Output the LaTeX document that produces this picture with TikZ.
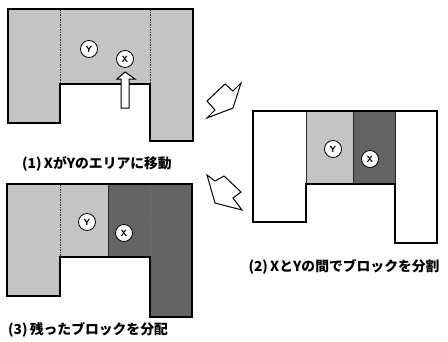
\documentclass[tikz,border=0pt]{standalone}
\usepackage{fontspec}
\setmainfont{Liberation Sans}
\newfontfamily\jp{Noto Sans CJK JP}
\definecolor{lightg}{RGB}{196,196,196}
\definecolor{darkg}{RGB}{100,100,100}
\begin{document}
\begin{tikzpicture}[x=1pt,y=-1pt,
  outline/.style={draw=black,line width=1.2pt,line join=miter},
  divider/.style={draw=black!80,line width=0.8pt,dashed,dash pattern=on 1.5pt off 1pt},
  solidline/.style={draw=black!85,line width=0.8pt},
  tag/.style={circle,draw=black,line width=0.8pt,fill=white,minimum size=17pt,inner sep=0pt,font=\sffamily\bfseries\small},
  caption/.style={font=\jp\bfseries\fontsize{13.8}{15}\selectfont,inner sep=0pt},
  bigarrow/.style={draw=black,line width=1pt,fill=white,line join=miter}]
\useasboundingbox (0,0) rectangle (448,341);
% ---------- panel 1 ----------
\fill[lightg] (8,9) -- (193,9) -- (193,141) -- (150,141) -- (150,84) -- (60,84) -- (60,123) -- (8,123) -- cycle;
\draw[divider] (60,9) -- (60,84);
\draw[divider] (150,9) -- (150,84);
\draw[outline] (8,9) -- (193,9) -- (193,141) -- (150,141) -- (150,84) -- (60,84) -- (60,123) -- (8,123) -- cycle;
\draw[bigarrow] (121,108) -- (129,108) -- (129,79) -- (135,79) -- (125,72) -- (117,79) -- (121,79) -- cycle;
\node[tag] (y1) at (89,49) {Y};
\node[tag] (x1) at (125,59) {X};
\node[caption] (c1) at (97,164) {(1)\,XがYのエリアに移動};
% ---------- panel 2 ----------
\fill[lightg] (306,111) rectangle (353,184);
\fill[darkg] (353,111) rectangle (395,184);
\draw[solidline] (306,111) -- (306,184);
\draw[solidline] (353,111) -- (353,184);
\draw[solidline] (395,111) -- (395,184);
\draw[outline] (253,111) -- (437,111) -- (437,243) -- (395,243) -- (395,184) -- (306,184) -- (306,222) -- (253,222) -- cycle;
\node[tag] (y2) at (333,149) {Y};
\node[tag] (x2) at (370,159) {X};
\node[caption] (c2) at (344,267) {(2)\,XとYの間でブロックを分割};
% ---------- panel 3 ----------
\fill[lightg] (7,184) -- (108,184) -- (108,257) -- (60,257) -- (60,296) -- (7,296) -- cycle;
\fill[darkg] (108,184) -- (192,184) -- (192,317) -- (150,317) -- (150,257) -- (108,257) -- cycle;
\draw[divider] (60,184) -- (60,257);
\draw[divider,draw=black!55] (150,184) -- (150,257);
\draw[solidline] (108,184) -- (108,257);
\draw[outline] (7,184) -- (192,184) -- (192,317) -- (150,317) -- (150,257) -- (60,257) -- (60,296) -- (7,296) -- cycle;
\node[tag] (y3) at (87,222) {Y};
\node[tag] (x3) at (124,233) {X};
\node[caption] (c3) at (88,330) {(3)\,残ったブロックを分配};
% ---------- transition arrows ----------
\draw[bigarrow] (225,84) -- (233,91) -- (241,83) -- (233,108) -- (207,118) -- (215,110) -- (207,101) -- cycle;
\draw[bigarrow] (207,175) -- (215,181) -- (224,176) -- (241,192) -- (233,198) -- (242,210) -- (215,203) -- cycle;
\end{tikzpicture}
\end{document}
